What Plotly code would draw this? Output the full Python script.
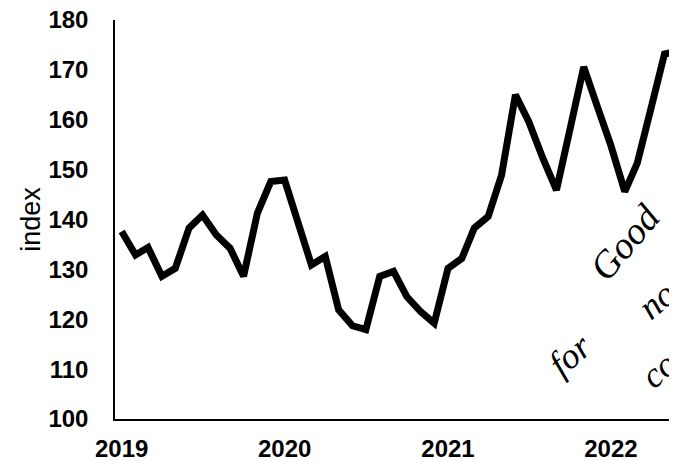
import pandas as pd
import plotly.graph_objects as go

# Monthly index values, Jan 2019 - Jun 2022
months = pd.date_range("2019-01-01", periods=42, freq="MS")
index_values = [
    137.6, 132.9, 134.4, 128.6, 130.2, 138.3, 140.9, 136.9, 134.2, 128.6, 141.3, 147.6,  # 2019
    147.9, 138.6, 130.9, 132.6, 121.9, 118.7, 117.9, 128.6, 129.6, 124.5, 121.5, 119.2,  # 2020
    130.2, 132.2, 138.3, 140.6, 148.9, 165.0, 159.6, 152.4, 145.9, 158.0, 170.6, 162.8,  # 2021
    154.8, 145.6, 151.3, 162.4, 173.2, 173.7,                                            # 2022
]
year_ticks = ["2019-01-01", "2020-01-01", "2021-01-01", "2022-01-01"]
year_labels = ["2019", "2020", "2021", "2022"]
y_ticks = [100, 110, 120, 130, 140, 150, 160, 170, 180]

fig = go.Figure()
fig.add_trace(go.Scatter(
    x=months, y=index_values, mode="lines",
    line=dict(color="black", width=7, shape="linear"),
    showlegend=False, hoverinfo="skip", cliponaxis=True,
))

tickfont = dict(family="Liberation Sans, Arial, sans-serif", size=24, color="black", weight="bold")
clear = "rgba(0,0,0,0)"

# the page body adds an 8px offset; figure is sized to the remaining window
fig.update_layout(
    width=669, height=453,
    margin=dict(l=107, r=0, t=12, b=42, autoexpand=False),
    paper_bgcolor="white", plot_bgcolor="white",
    xaxis=dict(
        range=["2018-12-17", "2022-05-29"],
        tickvals=year_ticks, ticktext=year_labels,
        showgrid=False, zeroline=False, automargin=False,
        showline=True, linecolor="black", linewidth=1.5,
        ticks="outside", ticklen=7, tickcolor=clear, tickfont=tickfont,
        ticklabeloverflow="allow",
    ),
    yaxis=dict(
        range=[100, 180],
        tickvals=y_ticks,
        showgrid=False, zeroline=False, automargin=False,
        showline=True, linecolor="black", linewidth=1.5,
        ticks="outside", ticklen=20, tickcolor=clear, tickfont=tickfont,
        ticklabeloverflow="allow",
        title=dict(text="index", font=dict(family="Liberation Sans, Arial, sans-serif", size=27, color="black"), standoff=0),
    ),
)

hand = dict(family="Liberation Serif, serif", color="black", style="italic")
notes = [
    ("Good", 0.907, 0.444, -50, 38),
    ("for", 0.810, 0.160, -40, 36),
    ("no", 0.965, 0.298, -40, 36),
    ("co", 0.968, 0.123, -40, 36),
]
for txt, xp, yp, ang, sz in notes:
    fig.add_annotation(
        text=txt, xref="paper", yref="paper", x=xp, y=yp,
        showarrow=False, textangle=ang,
        font=dict(size=sz, **hand),
        xanchor="center", yanchor="middle",
    )

fig.write_html("out.html")
